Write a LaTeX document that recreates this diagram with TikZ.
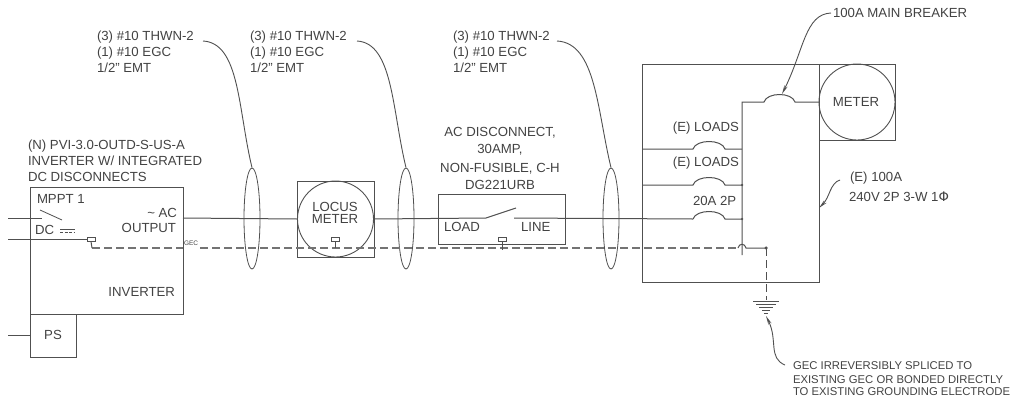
\documentclass[tikz,border=0pt]{standalone}
\usepackage{fontspec}
\setmainfont{Liberation Sans}
\newfontfamily\dejavu{DejaVu Sans}
\usetikzlibrary{arrows.meta,calc,shapes.geometric}
\definecolor{ink}{HTML}{505050}
\definecolor{txt}{HTML}{424242}
\tikzset{
  wire/.style={draw=ink,line width=1pt},
  thinw/.style={draw=ink,line width=0.8pt},
  gecw/.style={draw=ink!80,line width=1.2pt,dash pattern=on 8pt off 4pt},
  gecv/.style={draw=ink,line width=1pt,dash pattern=on 8pt off 4pt},
  boxn/.style={draw=ink,line width=1pt,rectangle,inner sep=0pt,outer sep=0pt},
  circn/.style={draw=ink,line width=0.9pt,circle,inner sep=0pt,outer sep=0pt,minimum size=76pt},
  lbl/.style={text=txt,inner sep=0pt,outer sep=0pt,font=\fontsize{13.2}{15.5}\selectfont,align=left},
  small/.style={text=txt,inner sep=0pt,outer sep=0pt,font=\fontsize{11.3}{13}\selectfont,align=left},
  tiny/.style={text=txt,inner sep=0pt,outer sep=0pt,font=\fontsize{6.5}{7}\selectfont},
  oval/.style={draw=ink,line width=0.8pt,ellipse,inner sep=0pt,minimum width=16pt,minimum height=101pt},
  term/.style={draw=ink,line width=1pt,rectangle,inner sep=0pt,minimum width=8pt,minimum height=4pt,fill=white},
  lead/.style={draw=ink,line width=0.9pt},
  arr/.style={lead,-{Stealth[length=9pt,width=3.5pt]}},
  dotn/.style={circle,fill=ink,inner sep=0pt,minimum size=3pt}
}
\begin{document}
\begin{tikzpicture}[x=1pt,y=-1pt]
\useasboundingbox (0,0) rectangle (1012,400);
% boxes
\node[boxn,minimum width=153pt,minimum height=127pt] (inv) at (106.5,250.5) {};
\node[boxn,minimum width=46pt,minimum height=43pt] (ps) at (53,335.5) {};
\node[boxn,minimum width=77pt,minimum height=76pt] (lbox) at (335.5,219) {};
\node[circn] (lcirc) at (335.5,219) {};
\node[boxn,minimum width=127pt,minimum height=50pt] (disc) at (501.5,219) {};
\node[boxn,minimum width=177pt,minimum height=218pt] (panel) at (730.5,173) {};
\node[boxn,minimum width=76pt,minimum height=76pt] (mbox) at (857,102) {};
\node[circn] (mcirc) at (857,102) {};
% ovals
\node[oval] (ov1) at (252,218.5) {};
\node[oval] (ov2) at (406,218.5) {};
\node[oval] (ov3) at (611,218.5) {};
% coordinates
\coordinate (w1) at (8,218); \coordinate (w1e) at (42,218);
\coordinate (w2) at (8,239);
\coordinate (w3) at (8,335.5);
\coordinate (sw1) at (40,210); \coordinate (sw2) at (62,220);
\coordinate (ac) at (183,218);
\coordinate (dA) at (486,218); \coordinate (dB) at (516,208); \coordinate (dC) at (514,218);
\coordinate (b3a) at (693,219); \coordinate (b3b) at (725,219); \coordinate (bus3) at (742,219);
\coordinate (b2a) at (693,185); \coordinate (b2b) at (725,185); \coordinate (bus2) at (742,185);
\coordinate (b1a) at (693,149); \coordinate (b1b) at (725,149); \coordinate (bus1) at (742,149);
\coordinate (mbA) at (764,102); \coordinate (mbB) at (795,102); \coordinate (bus0) at (742,102);
\coordinate (busend) at (742,255);
\coordinate (p1) at (642,149); \coordinate (p2) at (642,185);
\coordinate (hopA) at (738,248); \coordinate (hopB) at (746,248);
\coordinate (gj) at (766,248);
\coordinate (gnd) at (766,300);
\coordinate (gs) at (92,248);
% wires
\draw[wire] (w1) -- (w1e);
\draw[wire] (w2) -- (88,239);
\draw[wire] (w3) -- (ps.west);
\draw[thinw] (sw1) -- (sw2);
\draw[wire] (ac) -- (lcirc.west);
\draw[wire] (lcirc.east) -- (dA);
\draw[wire] (dA) -- (dB);
\draw[wire] (dC) -- (b3a);
\draw[wire] (b3a) .. controls (696,209) and (722,209) .. (b3b) -- (bus3);
\draw[wire] (p2) -- (b2a) .. controls (696,175) and (722,175) .. (b2b) -- (bus2);
\draw[wire] (p1) -- (b1a) .. controls (696,139) and (722,139) .. (b1b) -- (bus1);
\draw[wire] (mcirc.west) -- (mbB) .. controls (792,92) and (767,92) .. (mbA) -- (bus0) -- (busend);
\node[dotn,minimum size=2.5pt] (d2) at (bus2) {};
\node[dotn,minimum size=2.5pt] (d3) at (bus3) {};
% GEC
\draw[gecw] (gs) -- (183,248);
\draw[gecw] (200,248) -- (hopA);
\draw[wire] (hopA) .. controls (739,243) and (745,243) .. (hopB) -- (gj);
\draw[gecv] (gj) -- (gnd);
\node[dotn,minimum size=3.5pt] (d4) at (gj) {};
% terminals
\node[term] (t1) at (91,239) {};
\draw[wire] (t1.south) -- (gs);
\node[term] (t2) at (335,239) {};
\draw[wire] (t2.south) -- (335,248);
\node[term] (t3) at (502,239) {};
\draw[wire] (t3.south) -- (502,250);
% DC symbol
\draw[thinw] (60,229) -- (75,229);
\draw[thinw,dash pattern=on 3pt off 1.5pt] (60,232) -- (75,232);
% ground
\draw[wire] (753,301) -- (779,301);
\draw[wire] (756,304) -- (776,304);
\draw[wire] (759,307) -- (773,307);
\draw[wire] (762,310) -- (770,310);
\draw[wire] (764,313) -- (768,313);
% leaders
\coordinate (l1) at (203,41); \coordinate (l2) at (357,41); \coordinate (l3) at (557,41);
\draw[lead] (l1) .. controls (240,43) and (238,110) .. (ov1.north);
\draw[lead] (l2) .. controls (393,43) and (392,110) .. (ov2.north);
\draw[lead] (l3) .. controls (596,43) and (597,110) .. (ov3.north);
\coordinate (a1) at (831,13); \coordinate (a1e) at (782,94);
\draw[arr] (a1) .. controls (805,14) and (804,50) .. (a1e);
\coordinate (a2) at (840,180); \coordinate (a2e) at (819,208);
\draw[arr] (a2) .. controls (830,183) and (830,197) .. (a2e);
\coordinate (a3) at (785,365); \coordinate (a3e) at (766,316);
\draw[arr] (a3) .. controls (768,358) and (778,340) .. (a3e);
% text
\node[lbl,anchor=west] (t3a) at (97,37) {(3) \#10 THWN-2};
\node[lbl,anchor=west] (t3b) at (97,53) {(1) \#10 EGC};
\node[lbl,anchor=west] (t3c) at (97,68) {1/2" EMT};
\node[lbl,anchor=west] (t4a) at (250,37) {(3) \#10 THWN-2};
\node[lbl,anchor=west] (t4b) at (250,53) {(1) \#10 EGC};
\node[lbl,anchor=west] (t4c) at (250,68) {1/2" EMT};
\node[lbl,anchor=west] (t5a) at (453,37) {(3) \#10 THWN-2};
\node[lbl,anchor=west] (t5b) at (453,53) {(1) \#10 EGC};
\node[lbl,anchor=west] (t5c) at (453,68) {1/2" EMT};
\node[lbl,anchor=west] (n1) at (28,146) {(N) PVI-3.0-OUTD-S-US-A};
\node[lbl,anchor=west] (n2) at (28,160.5) {INVERTER W/ INTEGRATED};
\node[lbl,anchor=west] (n3) at (28,177) {DC DISCONNECTS};
\node[lbl,anchor=west] (mp) at (37,199) {MPPT 1};
\node[lbl,anchor=west] (dc) at (35,230) {DC};
\node[lbl,anchor=east] (acl) at (177,213) {\textasciitilde{} AC};
\node[lbl,anchor=east] (ot) at (176,228) {OUTPUT};
\node[tiny,anchor=west] (gec) at (184,243) {GEC};
\node[lbl,anchor=east] (iv) at (175,292) {INVERTER};
\node[lbl] (psl) at (53,335) {PS};
\node[lbl] (lm1) at (335,207) {LOCUS};
\node[lbl] (lm2) at (335,218.5) {METER};
\node[lbl] (ad1) at (500,133) {AC DISCONNECT,};
\node[lbl] (ad2) at (500,150) {30AMP,};
\node[lbl] (ad3) at (500,168.5) {NON-FUSIBLE, C-H};
\node[lbl] (ad4) at (500,185) {DG221URB};
\node[lbl,anchor=west] (load) at (444,226.5) {LOAD};
\node[lbl,anchor=west] (line) at (521,226.5) {LINE};
\node[lbl,anchor=west] (mb) at (833,13) {100A MAIN BREAKER};
\node[lbl] (mt) at (856,102) {METER};
\node[lbl,anchor=east] (e1) at (739,128) {(E) LOADS};
\node[lbl,anchor=east] (e2) at (739,163) {(E) LOADS};
\node[lbl,anchor=west] (amp) at (693,201) {20A 2P};
\node[lbl,anchor=west] (e3) at (850,178) {(E) 100A};
\node[lbl,anchor=west] (e4) at (849,197) {240V 2P 3-W 1{\dejavu Φ}};
\node[small,anchor=west] (g1) at (793,366) {GEC IRREVERSIBLY SPLICED TO};
\node[small,anchor=west] (g2) at (793,380) {EXISTING GEC OR BONDED DIRECTLY};
\node[small,anchor=west] (g3) at (793,392) {TO EXISTING GROUNDING ELECTRODE};
\end{tikzpicture}
\end{document}
